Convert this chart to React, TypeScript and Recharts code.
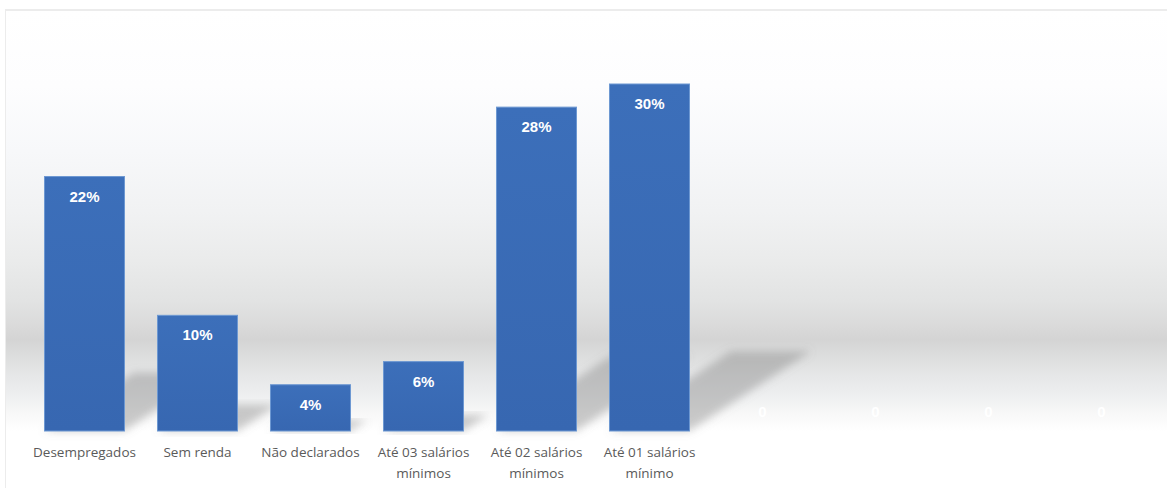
import React from 'react';
import { BarChart, Bar, XAxis, YAxis, LabelList } from 'recharts';

const categories = [
  'Desempregados',
  'Sem renda',
  'Não declarados',
  'Até 03 salários\nmínimos',
  'Até 02 salários\nmínimos',
  'Até 01 salários\nmínimo',
  '',
  '',
  '',
  '',
];
const percentages = [22, 10, 4, 6, 28, 30, 0, 0, 0, 0];
const valueLabels = ['22%', '10%', '4%', '6%', '28%', '30%', '0', '0', '0', '0'];

const data = categories.map((name, i) => ({ name, value: percentages[i], label: valueLabels[i] }));

const BAR_FILL = '#3b6db8';

// bar with a soft floor shadow thrown back-right
function ShadowBar(props: any) {
  const { x, y, width, height } = props;
  if (!height || height <= 0) return null;
  const base = y + height;
  const dx = height * 0.35;
  const dy = height * 0.23;
  const pts = [
    [x, base],
    [x + width, base],
    [x + width + dx, base - dy],
    [x + dx, base - dy],
  ]
    .map((p) => p.join(','))
    .join(' ');
  return (
    <g>
      <polygon points={pts} fill="#7d7d7d" fillOpacity={0.4} filter="url(#shadowBlur)" />
      <rect x={x} y={y} width={width} height={height} fill="url(#barGrad)" stroke="#6d98d2" strokeWidth={1} />
    </g>
  );
}

function ValueLabel(props: any) {
  const { x, y, width, height, value } = props;
  const ly = height > 0 ? y + 25 : y - 14;
  return (
    <text
      x={x + width / 2}
      y={ly}
      textAnchor="middle"
      fill="#ffffff"
      fontFamily="Arial, 'Liberation Sans', sans-serif"
      fontWeight="bold"
      fontSize={15}
    >
      {value}
    </text>
  );
}

function CategoryTick(props: any) {
  const { x, y, payload } = props;
  const lines = String(payload.value || '').split('\n');
  return (
    <text
      x={x}
      y={y}
      textAnchor="middle"
      fill="#5a5a5a"
      fontFamily="'Open Sans', 'Noto Sans', sans-serif"
      fontSize={13.5}
    >
      {lines.map((l, i) => (
        <tspan key={i} x={x} dy={i === 0 ? 18 : 21}>
          {l}
        </tspan>
      ))}
    </text>
  );
}

export default function App() {
  return (
    <div
      style={{
        position: 'absolute',
        left: 0,
        top: 0,
        width: 1167,
        height: 488,
        background: '#ffffff',
        overflow: 'hidden',
      }}
    >
      <div
        style={{
          position: 'absolute',
          left: 5,
          top: 9,
          width: 1180,
          height: 500,
          borderTop: '2px solid #ececec',
          borderLeft: '1px solid #ececec',
          background:
            'linear-gradient(to bottom, #ffffff 0px, #fdfdfe 75px, #f7f8fa 140px, #f1f2f3 200px, #eaebeb 250px, #e2e3e3 290px, #dadada 315px, #d4d4d4 328px, #dcdddd 345px, #e6e7e8 365px, #eeeff0 385px, #f8f8f8 403px, #ffffff 420px, #ffffff 500px)',
        }}
      />
      <div style={{ position: 'absolute', left: 0, top: 0 }}>
        <BarChart
          width={1167}
          height={488}
          data={data}
          margin={{ top: 84, right: 9, bottom: 7, left: 28 }}
          barCategoryGap="14.6%"
        >
          <defs>
            <linearGradient id="barGrad" x1="0" y1="0" x2="0" y2="1">
              <stop offset="0%" stopColor="#3c6fba" />
              <stop offset="100%" stopColor="#3767b1" />
            </linearGradient>
            <filter id="shadowBlur" x="-20%" y="-20%" width="140%" height="140%">
              <feGaussianBlur stdDeviation="4" />
            </filter>
          </defs>
          <XAxis
            dataKey="name"
            height={50}
            axisLine={false}
            tickLine={false}
            interval={0}
            tick={<CategoryTick />}
          />
          <YAxis hide domain={[0, 30]} />
          <Bar dataKey="value" fill={BAR_FILL} shape={<ShadowBar />} isAnimationActive={false} minPointSize={0}>
            <LabelList dataKey="label" content={<ValueLabel />} />
          </Bar>
        </BarChart>
      </div>
    </div>
  );
}
